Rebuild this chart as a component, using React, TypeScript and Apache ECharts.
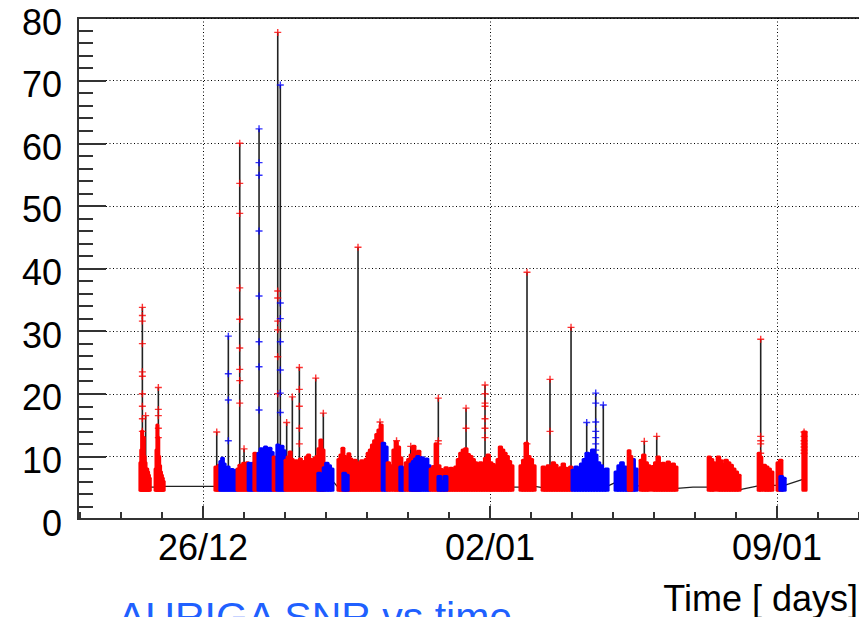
import React, { useEffect, useRef } from "react";
import * as echarts from "echarts";

// x values are days relative to 26/12 00:00
const X_MIN = -3.05;
const X_MAX = 17.0;
const majorDays = [0, 7, 14];
const majorLabels = ["26/12", "02/01", "09/01"];
const minorDays = [-3, -2, -1, 0, 1, 2, 3, 4, 5, 6, 7, 8, 9, 10, 11, 12, 13, 14, 15, 16, 17];
const BASE = 4.6;

// dense candidate runs: start day, end day, colour, and read-off top SNR of each slice
const runStart = [
  -1.54, -1.17,
  0.29, 0.41, 0.54, 0.83, 1.10, 1.24, 1.34, 1.71, 1.80,
  2.00, 2.80, 2.93, 3.29, 3.41, 3.63, 3.95, 4.37, 4.49, 4.63, 4.80, 4.93, 5.05,
  5.54, 5.73, 6.20, 6.68, 7.17, 7.73, 8.27, 9.00, 10.05, 10.37, 10.66, 10.95,
  12.32, 12.54, 13.54, 13.66, 14.00, 14.07, 14.63,
];
const runEnd = [
  -1.29, -0.95,
  0.41, 0.54, 0.83, 1.10, 1.24, 1.34, 1.71, 1.80, 2.00,
  2.95, 2.93, 3.17, 3.63, 3.54, 3.95, 4.37, 4.49, 4.61, 4.85, 4.93, 5.29, 5.54,
  6.20, 5.95, 6.68, 7.17, 7.56, 8.10, 9.00, 9.88, 10.59, 10.46, 10.90, 11.56,
  12.49, 13.10, 13.63, 13.90, 14.12, 14.20, 14.71,
];
const runColor = [
  "r", "r",
  "r", "b", "b", "r", "b", "r", "b", "r", "b",
  "r", "b", "b", "r", "b", "r", "r", "b", "r", "r", "b", "r", "b",
  "r", "b", "r", "r", "r", "r", "r", "b", "b", "r", "r", "r",
  "r", "r", "r", "r", "r", "b", "r",
];
const runTops = [
  [9, 11, 14, 12, 13, 10, 9, 8, 8, 7.5, 7, 6.5],
  [8, 11, 15, 13, 10, 8.5, 7.5, 7, 6.5, 6],
  [8.3, 7.5, 8.6],
  [9.2, 9.7, 8.8],
  [7.8, 8.3, 7.5, 7.9, 7.4, 7.8],
  [8.0, 8.6, 7.8, 8.9, 8.4, 9.0],
  [8.9, 8.5, 8.9],
  [10.5, 9.8],
  [10.5, 11.2, 10.8, 11.5, 10.9, 11.3, 10.6],
  [9.9, 9.5],
  [11.8, 11.2, 11.6, 10.9],
  [9.4, 9.9, 10.7, 9.5, 8.9, 9.3, 9.0, 9.6, 8.8, 9.2, 9.9, 10.2, 9.5, 9.2, 9.7, 10.0, 11.2, 12.6, 11.0],
  [7.3, 7.0],
  [8.2, 8.9, 8.5, 8.0],
  [9.5, 10.2, 11.3, 10.0, 9.8, 10.4, 9.6],
  [7.3, 7.0],
  [8.9, 9.4, 8.5, 9.0, 9.3, 8.7],
  [9.5, 10.5, 11.0, 11.8, 12.5, 13.5, 14.2, 15.0],
  [12.1, 11.5],
  [9.0, 8.5],
  [11.0, 12.3, 11.5, 9.8],
  [8.3, 7.8],
  [9.0, 9.5, 10.2, 11.6, 10.3, 10.8],
  [8.8, 9.2, 9.6, 10.0, 9.4, 9.8, 9.0, 9.6, 8.5],
  [8.0, 8.4, 12.0, 8.5, 7.9, 7.8, 8.2, 7.8, 8.1, 8.0, 8.3],
  [6.8, 6.0, 6.8],
  [9.5, 10.5, 11.0, 11.2, 10.3, 10.0, 9.5, 9.0],
  [8.5, 9.0, 8.8, 9.7, 10.2, 9.0, 8.7, 8.4],
  [9.5, 11.5, 11.0, 10.5, 10.0, 9.2, 8.5],
  [8.5, 9.4, 12.1, 10.0, 9.5, 8.5],
  [8.3, 7.8, 8.5, 8.0, 9.0, 8.6, 7.9, 8.2, 8.8, 8.1, 7.8, 8.3],
  [7.8, 8.3, 7.5, 8.8, 9.5, 10.5, 9.8, 11.0, 10.2, 9.0, 8.5, 7.8, 8.0],
  [7.5, 8.5, 9.0, 8.3, 7.8, 8.6, 9.5, 8.0],
  [10.9, 10.0],
  [9.4, 10.2, 9.0, 8.5],
  [8.4, 9.0, 9.9, 8.6, 8.9, 8.2, 9.1, 8.5, 8.8, 8.3],
  [9.9, 9.5, 9.0],
  [9.9, 9.3, 8.7, 9.4, 9.0, 8.6, 8.0, 7.5, 7.0],
  [10.5, 9.9],
  [8.6, 8.3, 8.0, 7.5],
  [9.0, 9.4],
  [6.8, 6.5],
  [13.9],
];

// isolated high-SNR events
const spikeTime = [
  -1.48, -1.40, -1.09, 0.334, 0.617, 0.895, 1.0, 1.366, 1.822, 1.885, 2.04, 2.178,
  2.349, 2.749, 2.934, 3.78, 4.317, 4.72, 5.066, 5.739, 6.415, 6.878, 7.902, 8.463,
  8.976, 9.358, 9.578, 9.763, 10.763, 11.066, 13.602, 14.66,
];
const spikePeak = [
  33.8, 16.5, 21, 13.9, 29.2, 60, 11.2, 62.3, 77.7, 69.3, 15.4, 19.5,
  24.2, 22.5, 16.9, 43.4, 15.5, 12.5, 11.6, 19.3, 17.7, 21.4, 39.4, 22.3,
  30.6, 15.4, 20.1, 18.2, 12.4, 13.2, 28.7, 13.9,
];
const spikeColor = [
  "r", "r", "r", "r", "b", "r", "r", "b", "r", "b", "r", "r",
  "r", "r", "r", "r", "r", "r", "r", "r", "r", "r", "r", "r",
  "r", "b", "b", "b", "r", "r", "r", "r",
];
const spikeMarks = [
  [32.5, 31.6, 28, 23.5, 22.8, 20, 18, 16, 14], [], [17.5, 16.5, 14.5, 13], [],
  [23.2, 19, 12.5], [53.6, 48.8, 36.9, 31.9, 27.3, 23.9, 22.1, 18.5], [],
  [56.9, 54.9, 46, 35.6, 28.3, 24.3, 17.4], [36.4, 35.3, 31.6, 30.2, 25.9, 20],
  [34.5, 32, 28.3, 23.8, 20.1, 17], [], [],
  [20.7, 18, 14.5, 12], [], [], [], [], [], [], [12.5, 12], [14.5],
  [20, 18.5, 18, 16, 14.5, 13], [12], [14],
  [], [], [18.5, 15.5, 14, 13, 12, 11], [], [], [], [13.2, 12.5, 12, 10.5],
  [13.2, 12.5, 12, 11.5, 11, 10.5],
];

// connecting trace of the graph in the quiet gaps
const baseTime = [
  -1.54, -1.29, -1.17, -0.95, 0.29, 3.17, 3.35, 4.61, 4.63, 7.56, 7.73, 8.10, 8.27,
  9.88, 10.05, 10.59, 10.66, 11.56, 11.95, 12.32, 13.10, 13.54, 14.20, 14.61, 14.71,
];
const baseValue = [
  5.0, 5.1, 5.1, 5.2, 5.2, 6.0, 4.6, 5.0, 5.0, 5.1, 5.1, 5.2, 5.0,
  5.3, 5.8, 5.3, 5.3, 4.9, 5.1, 5.1, 4.7, 5.3, 5.4, 6.3, 6.3,
];

const RED = "#ff0000";
const BLUE = "#0000ff";
const FRAME = "#333333";
const FONT = "Liberation Sans, Arial, sans-serif";
const PLUS = "path://M0,2H5V3H0Z M2,0H3V5H2Z";

export default function App() {
  const ref = useRef<HTMLDivElement>(null);
  useEffect(() => {
    if (!ref.current) return;
    const chart = echarts.init(ref.current, null, { renderer: "svg" });

    // one rect per slice of each run
    const blocks: number[][] = [];
    runStart.forEach((s, r) => {
      const tops = runTops[r];
      const w = (runEnd[r] - s) / tops.length;
      tops.forEach((top, k) => blocks.push([s + k * w, s + (k + 1) * w, top, r]));
    });
    const stems = spikeTime.map((t, i) => [t, spikePeak[i], i]);
    const redMarks: number[][] = [];
    const blueMarks: number[][] = [];
    spikeTime.forEach((t, i) => {
      const target = spikeColor[i] === "r" ? redMarks : blueMarks;
      target.push([t, spikePeak[i]]);
      spikeMarks[i].forEach((m) => target.push([t, m]));
    });

    const tickLine = { color: FRAME, width: 2 };

    chart.setOption({
      animation: false,
      grid: {
        left: 78,
        top: 18,
        right: 0,
        bottom: 98,
        show: true,
        borderColor: FRAME,
        borderWidth: 2,
        backgroundColor: "transparent",
      },
      xAxis: [
        {
          type: "value",
          min: X_MIN,
          max: X_MAX,
          position: "bottom",
          axisLine: { show: true, onZero: false, lineStyle: tickLine },
          axisTick: { show: true, inside: true, length: 13, customValues: majorDays, lineStyle: tickLine },
          axisLabel: {
            customValues: majorDays,
            formatter: (v: number) => majorLabels[majorDays.indexOf(Math.round(v))] ?? "",
            fontSize: 36,
            fontFamily: FONT,
            color: "#000",
            margin: 10,
          },
          splitLine: { show: true, lineStyle: { color: "#000", type: [1, 2.5], width: 1 } },
        },
        {
          type: "value",
          min: X_MIN,
          max: X_MAX,
          position: "bottom",
          axisLine: { show: false, onZero: false },
          axisTick: { show: true, inside: true, length: 7, customValues: minorDays, lineStyle: tickLine },
          axisLabel: { show: false },
          splitLine: { show: false },
        },
      ],
      yAxis: {
        type: "value",
        min: 0,
        max: 80,
        interval: 10,
        axisLine: { show: true, onZero: false, lineStyle: tickLine },
        axisTick: { show: true, inside: true, length: 28, lineStyle: tickLine },
        minorTick: { show: true, splitNumber: 5, length: 15, lineStyle: tickLine },
        axisLabel: {
          margin: 16,
          formatter: (v: number) => "{n|" + v + "}",
          rich: {
            n: { fontSize: 36, fontFamily: FONT, color: "#000", padding: [8, 0, 0, 0] },
          },
        },
        splitLine: { show: true, lineStyle: { color: "#000", type: [1, 2.5], width: 1 } },
      },
      graphic: [
        {
          type: "text",
          x: 858,
          y: 598,
          style: {
            text: "Time [ days]",
            fontSize: 36,
            fontFamily: FONT,
            fill: "#000",
            align: "right",
            verticalAlign: "middle",
          },
        },
        {
          type: "text",
          x: 118,
          y: 617,
          style: {
            text: "AURIGA SNR vs time",
            fontSize: 41,
            fontFamily: FONT,
            fill: "#2060ff",
            align: "left",
            verticalAlign: "middle",
          },
        },
      ],
      series: [
        {
          type: "line",
          data: baseTime.map((t, i) => [t, baseValue[i]]),
          symbol: "none",
          lineStyle: { color: "#222", width: 1.3 },
          z: 1,
          silent: true,
        },
        {
          type: "custom",
          data: stems,
          encode: { x: 0, y: 1 },
          z: 2,
          silent: true,
          renderItem: (params: any, api: any) => {
            const top = api.coord([api.value(0), api.value(1)]);
            const bot = api.coord([api.value(0), 5]);
            return {
              type: "line",
              shape: { x1: top[0], y1: top[1], x2: bot[0], y2: bot[1] },
              style: { stroke: "#222", lineWidth: 1.6 },
            };
          },
        },
        {
          type: "custom",
          data: blocks,
          encode: { x: [0, 1], y: 2 },
          z: 3,
          silent: true,
          renderItem: (params: any, api: any) => {
            const r = api.value(3);
            const c = runColor[r] === "r" ? RED : BLUE;
            const p0 = api.coord([api.value(0), api.value(2)]);
            const p1 = api.coord([api.value(1), BASE]);
            return {
              type: "rect",
              shape: { x: p0[0], y: p0[1], width: Math.max(p1[0] - p0[0], 1), height: p1[1] - p0[1] },
              style: { fill: c, stroke: c, lineWidth: 3, lineJoin: "round" },
            };
          },
        },
        {
          type: "scatter",
          data: redMarks,
          symbol: PLUS,
          symbolSize: 7,
          itemStyle: { color: RED },
          z: 4,
          silent: true,
        },
        {
          type: "scatter",
          data: blueMarks,
          symbol: PLUS,
          symbolSize: 7,
          itemStyle: { color: BLUE },
          z: 4,
          silent: true,
        },
      ],
    });
    return () => chart.dispose();
  }, []);

  return (
    <div
      style={{ position: "absolute", left: 0, top: 0, width: 859, height: 617, overflow: "hidden", background: "#fff" }}
    >
      <div ref={ref} style={{ width: 900, height: 617 }} />
    </div>
  );
}
